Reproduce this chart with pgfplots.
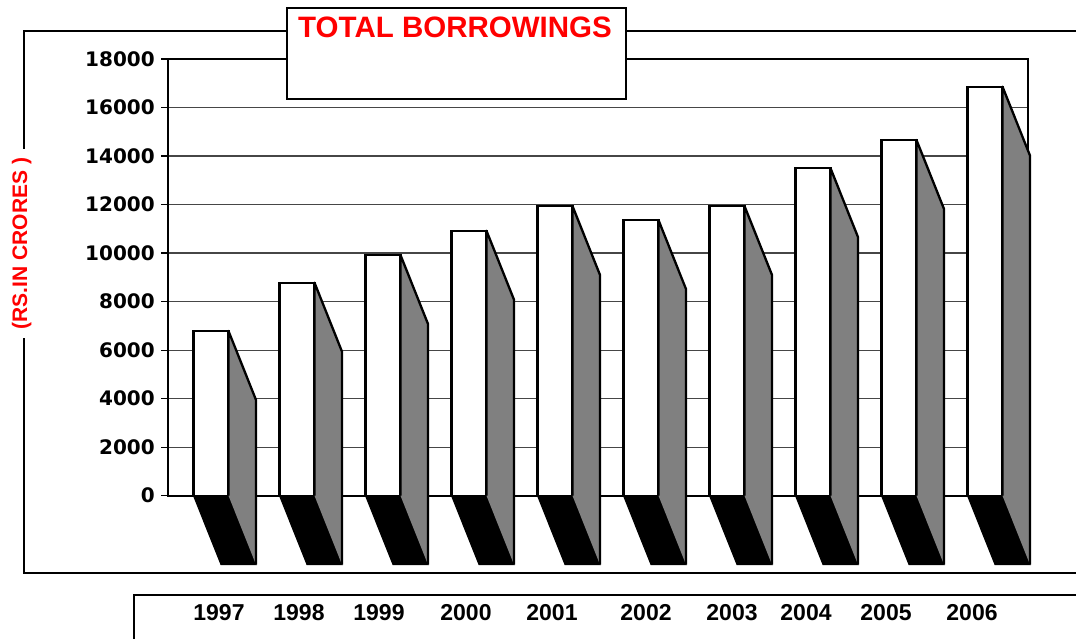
\documentclass[border=0pt]{standalone}
\usepackage{fontspec}
\setmainfont{Liberation Sans}
\newfontfamily\tickfont{DejaVu Sans}
\usepackage{pgfplots}
\usepackage{pgfplotstable}
\pgfplotsset{compat=1.18}
\definecolor{titlered}{RGB}{255,0,0}
\definecolor{sidegray}{RGB}{128,128,128}
\definecolor{gridgray}{RGB}{70,70,70}

% total borrowings, Rs. in crores
\pgfplotstableread{
year value
1997 6790
1998 8780
1999 9920
2000 10920
2001 11940
2002 11360
2003 11940
2004 13500
2005 14660
2006 16860
}\borrowings

\begin{document}
\begin{tikzpicture}
\begin{scope}[x=1pt,y=-1pt]
  % outer frame
  \draw[line width=2.2pt] (1100,31) -- (24,31) -- (24,573) -- (1100,573);
  \node[rotate=90, fill=white, inner sep=9pt, text=titlered,
        font=\bfseries\fontsize{21}{21}\selectfont] at (21.7,243.5) {(RS.IN CRORES )};
  % box holding the years
  \fill[black] (133,593.5) rectangle (1100,595.5);
  \fill[black] (133,593.5) rectangle (135,660);
\end{scope}

\begin{axis}[
    at={(168pt,-495.7pt)}, anchor=south west,
    scale only axis, width=860pt, height=436.7pt,
    xmin=0, xmax=10, ymin=0, ymax=18000,
    clip=false,
    xtick=\empty,
    ytick={0,2000,...,18000},
    ytick pos=left, tick align=outside,
    major tick length=7pt,
    ymajorgrids,
    grid style={gridgray, line width=1.2pt},
    axis line style={line width=2pt},
    tick style={black, line width=1.2pt},
    scaled y ticks=false,
    /pgf/number format/1000 sep={},
    /pgf/number format/assume math mode=true,
    yticklabel style={font=\tickfont\bfseries\fontsize{20}{20}\selectfont, inner sep=0pt, xshift=-6pt},
]
% front faces
\addplot[ybar, bar width=0.407, fill=white, draw=black, line width=2.3pt]
    table[x expr=\coordindex+0.5, y=value]{\borrowings};
% floor shadow and side face of every bar
\pgfplotsforeachungrouped \bi in {0,...,9}{%
  \pgfplotstablegetelem{\bi}{value}\of\borrowings
  \let\barval=\pgfplotsretval
  \pgfmathsetmacro\xl{\bi+0.2965}
  \pgfmathsetmacro\xr{\bi+0.7035}
  \pgfmathsetmacro\xls{\xl+0.32}
  \pgfmathsetmacro\xrs{\xr+0.32}
  \edef\barvs{\the\numexpr\barval-2844\relax}
  \edef\faces{%
    \noexpand\addplot[fill=black, draw=black, line width=1pt]
      coordinates {(\xl,0) (\xr,0) (\xrs,-2844) (\xls,-2844)} -- cycle;
    \noexpand\addplot[fill=sidegray, draw=black, line width=2.3pt, line join=round]
      coordinates {(\xr,0) (\xr,\barval) (\xrs,\barvs) (\xrs,-2844)};
  }%
  \faces
}
\end{axis}

\begin{scope}[x=1pt,y=-1pt]
  \draw[line width=2pt, fill=white] (287,8) rectangle (626,99);
  \node[anchor=base, inner sep=0pt, text=titlered,
        font=\bfseries\fontsize{29.5}{29.5}\selectfont] at (455,37.5) {TOTAL BORROWINGS};
  \foreach \xp/\yr in {219/1997,299/1998,379/1999,466/2000,552/2001,
                       646/2002,732/2003,806/2004,886/2005,972/2006}
    \node[anchor=base, inner sep=0pt, font=\bfseries\fontsize{23}{23}\selectfont] at (\xp,620) {\yr};
  % page is exactly the reference's size
  \pgfresetboundingbox
  \useasboundingbox (0,0) rectangle (1076,638);
\end{scope}
\end{tikzpicture}
\end{document}
